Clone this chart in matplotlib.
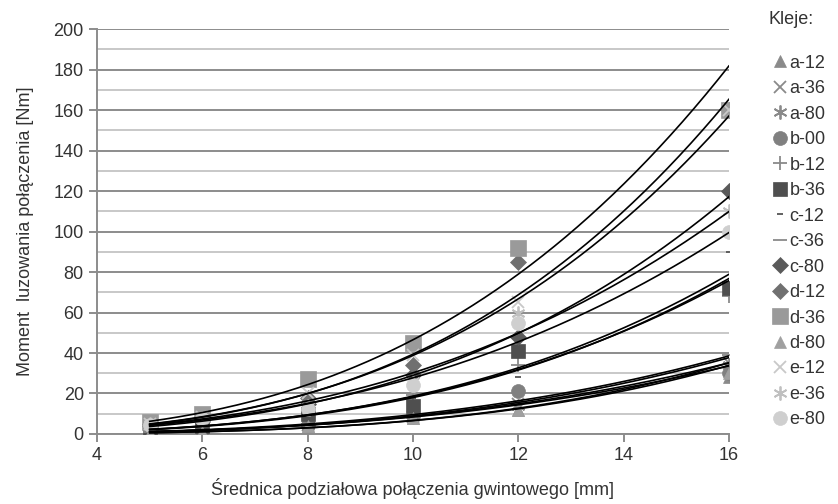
import numpy as np
import matplotlib
matplotlib.use("Agg")
from matplotlib import pyplot as plt
from matplotlib.ticker import MultipleLocator

plt.rcParams['font.family'] = ['Liberation Sans', 'DejaVu Sans']

# srednica podzialowa [mm]
diam = [5, 6, 8, 10, 12, 16]

labels = ['a-12', 'a-36', 'a-80', 'b-00', 'b-12', 'b-36', 'c-12', 'c-36',
          'c-80', 'd-12', 'd-36', 'd-80', 'e-12', 'e-36', 'e-80']

# moment luzowania [Nm]
a12 = [0.5, 1.0, 4.0, 8.0, 12, 28]
a36 = [1.1, 1.8, 4.5, 8.5, 15, 35]
a80 = [1.1, 1.8, 4.4, 8.5, 14, 34]
b00 = [1.0, 1.8, 4.5, 9.0, 21, 30]
b12 = [2.0, 3.5, 10, 19, 34, 68]
b36 = [2.3, 4.0, 10, 14, 41, 72]
c12 = [2.3, 4.0, 9.5, 18, 28, 90]
c36 = [1.2, 2.1, 5.0, 9.5, 16, 39]
c80 = [3.7, 6.3, 15, 29, 48, 120]
d12 = [5.0, 8.5, 18, 34, 85, 160]
d36 = [6.0, 10, 27, 45, 92, 160]
d80 = [0.5, 1.0, 4.0, 8.0, 12, 30]
e12 = [5.0, 8.4, 20, 39, 65, 160]
e36 = [4.7, 8.0, 14, 26, 60, 110]
e80 = [4.4, 7.6, 12.5, 24, 55, 100]

series = [a12, a36, a80, b00, b12, b36, c12, c36, c80, d12, d36, d80, e12, e36, e80]

markers = ['^', 'x', (6, 2, 0), 'o', '+', 's', '_', '_', 'D', 'D', 's', '^', 'x', (6, 2, 0), 'o']
msizes = [9, 9, 10, 10, 10, 10, 5, 10, 8, 8, 11, 9, 9, 10, 10]
colors = ['#8a8a8a', '#8a8a8a', '#8a8a8a', '#808080', '#8a8a8a', '#4f4f4f', '#555555', '#8a8a8a',
          '#5a5a5a', '#707070', '#9a9a9a', '#a0a0a0', '#c8c8c8', '#c0c0c0', '#cfcfcf']

fig = plt.figure(figsize=(8.38, 5.04), dpi=100)
ax = fig.add_axes([0.1158, 0.139, 0.754, 0.803])

x = np.array(diam, dtype=float)
xs = np.linspace(5, 16, 200)
handles = []
for vals, m, ms, c, lab in zip(series, markers, msizes, colors, labels):
    y = np.array(vals, dtype=float)
    mew = 1.3 if m in ('x', '+', '_') or isinstance(m, tuple) else 0.5
    h, = ax.plot(x, y, linestyle='none', marker=m, markersize=ms, color=c,
                 markeredgecolor=c, markeredgewidth=mew, label=lab, zorder=3)
    handles.append(h)

# potegowe linie trendu (y = a * x^b)
for vals in series:
    y = np.array(vals, dtype=float)
    b, lna = np.polyfit(np.log(x), np.log(y), 1)
    ax.plot(xs, np.exp(lna) * xs ** b, color='black', lw=1.2, zorder=4)

ax.set_xlim(4, 16)
ax.set_ylim(0, 200)
ax.xaxis.set_major_locator(MultipleLocator(2))
ax.yaxis.set_major_locator(MultipleLocator(20))
ax.yaxis.set_minor_locator(MultipleLocator(10))
ax.grid(axis='y', which='major', color='#8c8c8c', lw=1.4)
ax.grid(axis='y', which='minor', color='#c4c4c4', lw=1.3)
ax.set_axisbelow(True)
for s in ('top', 'right'):
    ax.spines[s].set_visible(False)
for s in ('left', 'bottom'):
    ax.spines[s].set_color('#8c8c8c')
    ax.spines[s].set_linewidth(1.4)
ax.tick_params(axis='both', which='major', colors='#8c8c8c', labelcolor='#333333',
               labelsize=13, length=6, width=1.4)
ax.tick_params(axis='y', which='minor', length=0)

ax.set_xlabel('Średnica podziałowa połączenia gwintowego [mm]', fontsize=13, color='#333333', labelpad=10)
ax.set_ylabel('Moment  luzowania połączenia [Nm]', fontsize=13, color='#333333', labelpad=14)

fig.text(0.917, 0.962, 'Kleje:', fontsize=13, color='#333333', va='center', ha='left')
leg = ax.legend(handles=handles, loc='upper left', bbox_to_anchor=(1.06, 0.955),
                frameon=False, fontsize=13, handlelength=0.7, handletextpad=0.15,
                labelspacing=0.47, borderaxespad=0)
for t in leg.get_texts():
    t.set_color('#333333')

fig.savefig('out.png', dpi=100)
